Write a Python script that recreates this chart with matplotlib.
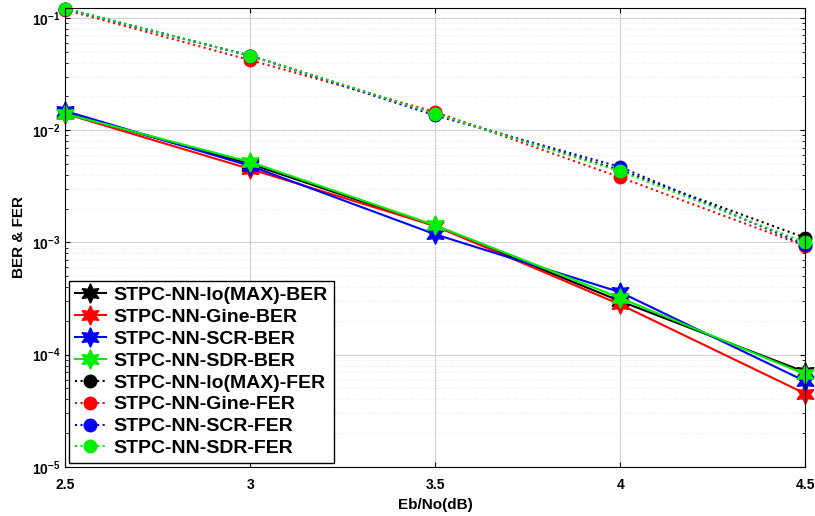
import numpy as np
import matplotlib
matplotlib.use('Agg')
import matplotlib.pyplot as plt

plt.rcParams['font.family'] = ['Liberation Sans', 'DejaVu Sans']
plt.rcParams['font.weight'] = 'bold'

ebno = [2.5, 3, 3.5, 4, 4.5]

ber_lo = [0.0142, 0.0050, 0.00140, 0.00030, 7.0e-5]
ber_gine = [0.0140, 0.0045, 0.00140, 0.00028, 4.5e-5]
ber_scr = [0.0148, 0.0048, 0.00118, 0.00036, 5.8e-5]
ber_sdr = [0.0140, 0.0052, 0.00142, 0.00032, 6.7e-5]

fer_lo = [0.120, 0.046, 0.0140, 0.0044, 0.00110]
fer_gine = [0.118, 0.042, 0.0145, 0.0038, 0.00093]
fer_scr = [0.121, 0.046, 0.0135, 0.0047, 0.00095]
fer_sdr = [0.121, 0.046, 0.0140, 0.0043, 0.00100]

colors = ['black', 'red', 'blue', '#00ee00']
names = ['lo(MAX)', 'Gine', 'SCR', 'SDR']
star6 = (6, 1, 0)

fig, ax = plt.subplots(figsize=(8.15, 5.16), dpi=100)
for ys, c, n in zip([ber_lo, ber_gine, ber_scr, ber_sdr], colors, names):
    ax.semilogy(ebno, ys, '-', color=c, marker=star6, markersize=14, linewidth=1.5,
                label='STPC-NN-%s-BER' % n, clip_on=False)
for ys, c, n in zip([fer_lo, fer_gine, fer_scr, fer_sdr], colors, names):
    ax.semilogy(ebno, ys, ':', color=c, marker='o', markersize=9, linewidth=1.5,
                label='STPC-NN-%s-FER' % n, clip_on=False)

ax.set_xlim(2.5, 4.5)
ax.set_ylim(1e-5, 0.123)
ax.set_xticks([2.5, 3, 3.5, 4, 4.5])
ax.set_xticklabels(['2.5', '3', '3.5', '4', '4.5'])
ax.set_xlabel('Eb/No(dB)', fontweight='bold', fontsize=11)
ax.set_ylabel('BER & FER', fontweight='bold', fontsize=11)
ax.tick_params(labelsize=10, direction='in', which='both', top=True, right=True)
ax.tick_params(axis='x', pad=8)
ax.grid(True, which='major', color='#d0d0d0', linestyle='-', linewidth=0.8)
ax.grid(True, which='minor', color='#e6e6e6', linestyle=':', linewidth=0.6)
leg = ax.legend(loc='lower left', fontsize=14, handlelength=1.6, handletextpad=0.4,
                borderaxespad=0.2, borderpad=0.3, labelspacing=0.22, fancybox=False,
                edgecolor='black', framealpha=1)
leg.get_frame().set_linewidth(1.0)

plt.subplots_adjust(left=0.08, right=0.988, top=0.985, bottom=0.095)
plt.savefig('out.png', dpi=100)
